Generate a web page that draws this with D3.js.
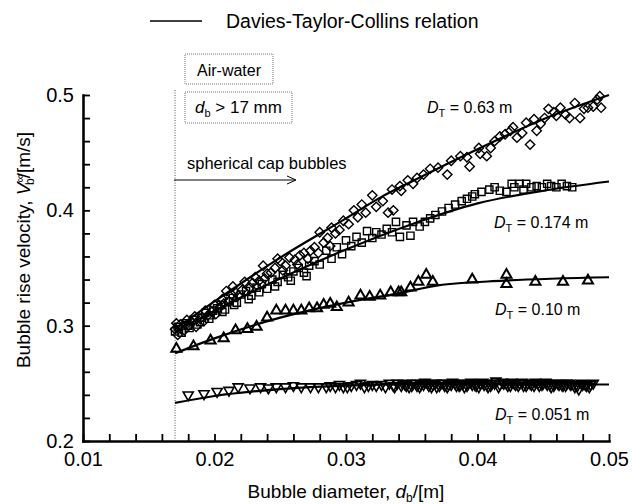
<!DOCTYPE html>
<html>
<head>
<meta charset="utf-8">
<script src="https://cdn.jsdelivr.net/npm/d3@7"></script>
<style>
  body { margin: 0; background: #fff; }
  svg { font-family: "Liberation Sans", Arial, sans-serif; }
</style>
</head>
<body>
<svg width="632" height="504"></svg>
<script>
// tick labels
const xMajor = [0.01, 0.02, 0.03, 0.04, 0.05];
const xLabels = ["0.01", "0.02", "0.03", "0.04", "0.05"];
const yMajor = [0.2, 0.3, 0.4, 0.5];
const yLabels = ["0.2", "0.3", "0.4", "0.5"];

// Davies-Taylor-Collins curves [d_b (m), V (m/s)]
const curve063 = [[0.017,0.297],[0.020,0.321],[0.025,0.359],[0.030,0.393],[0.0326,0.411],[0.035,0.425],[0.040,0.453],[0.045,0.479],[0.050,0.500]];
const curve0174 = [[0.017,0.295],[0.020,0.313],[0.025,0.341],[0.030,0.366],[0.035,0.388],[0.040,0.406],[0.045,0.417],[0.050,0.425]];
const curve010 = [[0.017,0.276],[0.020,0.289],[0.025,0.307],[0.030,0.320],[0.034,0.328],[0.037,0.335],[0.042,0.339],[0.050,0.342]];
const curve0051 = [[0.017,0.233],[0.020,0.239],[0.025,0.245],[0.030,0.248],[0.035,0.249],[0.040,0.249],[0.045,0.249],[0.050,0.249]];

// measurements, D_T = 0.63 m (diamonds)
const pts063 = [[0.0170,0.297],[0.0172,0.292],[0.0174,0.301],[0.0177,0.296],[0.0180,0.300],[0.0183,0.303],[0.0186,0.299],[0.0189,0.306],
  [0.0192,0.304],[0.0195,0.309],[0.0198,0.312],[0.0201,0.310],[0.0204,0.316],[0.0207,0.319],[0.0209,0.330],[0.0211,0.321],[0.0214,0.334],
  [0.0216,0.329],[0.0218,0.326],[0.0223,0.338],[0.0227,0.333],[0.0231,0.342],[0.0234,0.339],[0.0237,0.352],[0.0240,0.345],[0.0243,0.346],
  [0.0246,0.350],[0.0248,0.358],[0.0250,0.356],[0.0254,0.352],[0.0257,0.359],[0.0261,0.357],[0.0265,0.361],[0.0268,0.363],[0.0273,0.365],
  [0.0276,0.368],[0.0280,0.381],[0.0283,0.372],[0.0286,0.376],[0.0289,0.385],[0.0292,0.380],[0.0295,0.383],[0.0298,0.391],[0.0302,0.388],
  [0.0306,0.400],[0.0309,0.394],[0.0312,0.405],[0.0315,0.398],[0.0320,0.413],[0.0323,0.403],[0.0328,0.408],[0.0332,0.398],[0.0336,0.400],
  [0.0335,0.418],[0.0341,0.421],[0.0342,0.417],[0.0347,0.426],[0.0351,0.423],[0.0354,0.428],[0.0359,0.431],[0.0364,0.436],[0.0370,0.437],
  [0.0377,0.431],[0.0380,0.443],[0.0387,0.447],[0.0392,0.446],[0.0394,0.438],[0.0401,0.454],[0.0402,0.449],[0.0407,0.447],[0.0410,0.454],
  [0.0413,0.460],[0.0417,0.464],[0.0421,0.466],[0.0425,0.469],[0.0427,0.472],[0.0430,0.463],[0.0434,0.467],[0.0437,0.476],[0.0440,0.457],
  [0.0443,0.479],[0.0445,0.469],[0.0448,0.475],[0.0451,0.480],[0.0454,0.488],[0.0458,0.485],[0.0460,0.482],[0.0463,0.489],[0.0467,0.483],
  [0.0470,0.480],[0.0474,0.493],[0.0478,0.480],[0.0481,0.488],[0.0484,0.489],[0.0488,0.490],[0.0491,0.496],[0.0493,0.499],[0.0494,0.489],
  [0.0171,0.302],[0.0179,0.305],[0.0185,0.308],[0.0193,0.313],[0.0200,0.318],[0.0206,0.323],[0.0213,0.327],[0.0221,0.331],[0.0229,0.337],
  [0.0238,0.341],[0.0252,0.348],[0.0263,0.353],[0.0271,0.358],[0.0279,0.363],[0.0288,0.369]];

// measurements, D_T = 0.174 m (squares)
const pts0174 = [[0.0170,0.295],[0.0172,0.299],[0.0175,0.294],[0.0178,0.302],[0.0181,0.298],[0.0184,0.305],[0.0187,0.301],[0.0190,0.307],
  [0.0193,0.311],[0.0196,0.306],[0.0199,0.313],[0.0202,0.315],[0.0205,0.318],[0.0208,0.314],[0.0211,0.321],[0.0214,0.324],[0.0217,0.320],
  [0.0220,0.327],[0.0224,0.330],[0.0228,0.326],[0.0232,0.333],[0.0236,0.336],[0.0240,0.332],[0.0244,0.340],[0.0248,0.338],[0.0252,0.344],
  [0.0256,0.342],[0.0260,0.347],[0.0264,0.350],[0.0268,0.346],[0.0272,0.352],[0.0276,0.356],[0.0280,0.353],[0.0285,0.365],[0.0289,0.358],
  [0.0293,0.368],[0.0297,0.362],[0.0300,0.374],[0.0304,0.369],[0.0308,0.377],[0.0312,0.372],[0.0316,0.382],[0.0320,0.376],[0.0323,0.381],
  [0.0327,0.379],[0.0331,0.384],[0.0335,0.381],[0.0338,0.390],[0.0341,0.377],[0.0346,0.387],[0.0349,0.378],[0.0351,0.390],[0.0356,0.386],
  [0.0360,0.390],[0.0364,0.393],[0.0368,0.396],[0.0373,0.399],[0.0378,0.402],[0.0383,0.405],[0.0388,0.408],[0.0392,0.410],[0.0396,0.412],
  [0.0398,0.414],[0.0403,0.416],[0.0409,0.418],[0.0413,0.420],[0.0417,0.417],[0.0422,0.416],[0.0426,0.423],[0.0428,0.420],[0.0432,0.423],
  [0.0435,0.418],[0.0437,0.423],[0.0441,0.420],[0.0445,0.421],[0.0449,0.420],[0.0453,0.423],[0.0456,0.421],[0.0460,0.420],[0.0464,0.423],
  [0.0468,0.421],[0.0472,0.420],
  [0.0173,0.297],[0.0180,0.300],[0.0189,0.303],[0.0197,0.309],[0.0206,0.312],[0.0215,0.318],[0.0226,0.323],[0.0234,0.329],[0.0246,0.334],
  [0.0258,0.339],[0.0270,0.343]];

// measurements, D_T = 0.10 m (triangles)
const pts010 = [[0.0171,0.280],[0.0184,0.282],[0.0197,0.287],[0.0207,0.289],[0.0216,0.296],[0.0225,0.297],[0.0232,0.299],[0.0240,0.307],
  [0.0247,0.313],[0.0254,0.313],[0.0260,0.313],[0.0266,0.313],[0.0272,0.315],[0.0278,0.315],[0.0283,0.318],[0.0288,0.319],[0.0293,0.316],
  [0.0302,0.320],[0.0311,0.326],[0.0318,0.325],[0.0326,0.326],[0.0334,0.329],[0.0340,0.329],[0.0342,0.329],[0.0349,0.333],[0.0355,0.338],
  [0.0361,0.344],[0.0366,0.338],[0.0396,0.340],[0.0422,0.344],[0.0422,0.336],[0.0444,0.338],[0.0465,0.338],[0.0484,0.339]];

// measurements, D_T = 0.051 m (inverted triangles)
const pts0051 = [[0.0180,0.240],[0.0192,0.241],[0.0202,0.243],[0.0211,0.244],[0.0218,0.247],[0.0227,0.246],[0.0235,0.247],[0.0241,0.246],
  [0.0247,0.247],[0.0254,0.247],[0.0260,0.248],[0.0266,0.247],[0.0273,0.247],[0.0279,0.247],[0.0285,0.247],[0.0292,0.247],[0.0298,0.247],
  [0.0304,0.248],[0.0311,0.250],[0.0317,0.248],[0.0323,0.248],[0.0330,0.247],[0.0336,0.248],[0.0339,0.250],[0.0342,0.248],[0.0345,0.249],
  [0.0348,0.247],[0.0351,0.250],[0.0354,0.248],[0.0357,0.249],[0.0360,0.251],[0.0363,0.248],[0.0366,0.249],[0.0369,0.247],[0.0372,0.250],
  [0.0375,0.248],[0.0378,0.249],[0.0381,0.251],[0.0384,0.248],[0.0387,0.249],[0.0390,0.247],[0.0393,0.250],[0.0396,0.249],[0.0399,0.248],
  [0.0402,0.250],[0.0405,0.249],[0.0408,0.247],[0.0411,0.250],[0.0414,0.252],[0.0417,0.249],[0.0420,0.250],[0.0423,0.248],[0.0426,0.251],
  [0.0429,0.249],[0.0432,0.250],[0.0435,0.248],[0.0438,0.250],[0.0441,0.249],[0.0444,0.251],[0.0447,0.248],[0.0450,0.250],[0.0453,0.249],
  [0.0456,0.247],[0.0459,0.250],[0.0462,0.249],[0.0465,0.248],[0.0468,0.250],[0.0471,0.249],[0.0474,0.247],[0.0477,0.245],[0.0480,0.249],
  [0.0483,0.248],[0.0486,0.249],
  [0.0288,0.248],[0.0295,0.249],[0.0301,0.247],[0.0308,0.249],[0.0314,0.247],[0.0320,0.249],[0.0327,0.249],[0.0333,0.250],[0.0337,0.247],
  [0.0343,0.250],[0.0346,0.248],[0.0350,0.248],[0.0353,0.250],[0.0356,0.247],[0.0359,0.249],[0.0362,0.250],[0.0365,0.247],[0.0368,0.250],
  [0.0371,0.248],[0.0374,0.250],[0.0377,0.247],[0.0380,0.249],[0.0383,0.250],[0.0386,0.248],[0.0389,0.250],[0.0392,0.248],[0.0395,0.251],
  [0.0398,0.249],[0.0401,0.247],[0.0404,0.251],[0.0407,0.249],[0.0410,0.248],[0.0413,0.250],[0.0416,0.247],[0.0419,0.251],[0.0422,0.250],
  [0.0425,0.248],[0.0428,0.250],[0.0431,0.248],[0.0434,0.251],[0.0437,0.248],[0.0440,0.250],[0.0443,0.248],[0.0446,0.250],[0.0449,0.249],
  [0.0452,0.251],[0.0455,0.249],[0.0458,0.248],[0.0461,0.250],[0.0464,0.249],[0.0467,0.248],[0.0470,0.250],[0.0473,0.249],[0.0476,0.248],
  [0.0479,0.250],[0.0482,0.249],[0.0485,0.247],[0.0488,0.250]];

const svg = d3.select("svg");

const x = d3.scaleLinear().domain([0.01, 0.05]).range([83, 609]);
const y = d3.scaleLinear().domain([0.2, 0.5]).range([441, 95]);

// minor ticks every 0.002 / 0.02, labels only on the majors
const xTicks = d3.range(21).map(i => +(0.01 + i * 0.002).toFixed(4));
const yTicks = d3.range(16).map(i => +(0.2 + i * 0.02).toFixed(3));
const labelFor = (majors, labels) => d => {
  const i = majors.findIndex(m => Math.abs(m - d) < 1e-9);
  return i < 0 ? "" : labels[i];
};

const gx = svg.append("g")
  .attr("transform", "translate(0,441)")
  .call(d3.axisBottom(x).tickValues(xTicks).tickSize(-7).tickSizeOuter(0).tickPadding(11)
    .tickFormat(labelFor(xMajor, xLabels)));

const gy = svg.append("g")
  .attr("transform", "translate(83,0)")
  .call(d3.axisLeft(y).tickValues(yTicks).tickSize(-7).tickSizeOuter(0).tickPadding(9)
    .tickFormat(labelFor(yMajor, yLabels)));

[gx, gy].forEach(g => {
  g.select(".domain").attr("stroke-width", 2.6).attr("stroke-linecap", "square");
  g.selectAll(".tick line").attr("stroke-width", 1.8);
  g.selectAll(".tick text").attr("font-size", 20).attr("font-family", "Liberation Sans, Arial, sans-serif").attr("fill", "#000");
});

// dotted marker for d_b = 17 mm
svg.append("line")
  .attr("x1", x(0.017)).attr("x2", x(0.017))
  .attr("y1", 90).attr("y2", 440)
  .attr("stroke", "#555").attr("stroke-width", 1).attr("stroke-dasharray", "1,1.5");

// markers
const markers = svg.append("g").attr("fill", "none").attr("stroke", "#000").attr("stroke-width", 1.4);

const diamondPath = d3.symbol().type(d3.symbolSquare).size(44)();
const squarePath = d3.symbol().type(d3.symbolSquare).size(52)();
const triPath = d3.symbol().type(d3.symbolTriangle).size(44)();

markers.selectAll(".d063").data(pts063).join("path")
  .attr("d", diamondPath)
  .attr("transform", d => `translate(${x(d[0])},${y(d[1])}) rotate(45)`);

markers.selectAll(".s0174").data(pts0174).join("path")
  .attr("d", squarePath)
  .attr("transform", d => `translate(${x(d[0])},${y(d[1])})`);

markers.selectAll(".t010").data(pts010).join("path")
  .attr("d", triPath)
  .attr("stroke-width", 2)
  .attr("transform", d => `translate(${x(d[0])},${y(d[1])})`);

markers.selectAll(".t0051").data(pts0051).join("path")
  .attr("d", triPath)
  .attr("stroke-width", 1.6)
  .attr("transform", d => `translate(${x(d[0])},${y(d[1])}) rotate(180)`);

// DTC relation lines
const line = d3.line().x(d => x(d[0])).y(d => y(d[1])).curve(d3.curveMonotoneX);
svg.append("g").selectAll("path")
  .data([curve063, curve0174, curve010, curve0051])
  .join("path")
  .attr("d", line)
  .attr("fill", "none").attr("stroke", "#000").attr("stroke-width", 2.2);

// legend
svg.append("line").attr("x1", 150).attr("x2", 202).attr("y1", 21).attr("y2", 21)
  .attr("stroke", "#000").attr("stroke-width", 1.5);
svg.append("text").attr("x", 226).attr("y", 28).attr("font-size", 19.5)
  .text("Davies-Taylor-Collins relation");

// annotation boxes
svg.append("rect").attr("x", 185).attr("y", 54).attr("width", 88).attr("height", 30)
  .attr("fill", "none").attr("stroke", "#777").attr("stroke-width", 1).attr("stroke-dasharray", "1,1");
svg.append("text").attr("x", 197).attr("y", 76).attr("font-size", 16).text("Air-water");

svg.append("rect").attr("x", 185).attr("y", 92).attr("width", 107).attr("height", 31)
  .attr("fill", "none").attr("stroke", "#777").attr("stroke-width", 1).attr("stroke-dasharray", "1,1");
const db = svg.append("text").attr("x", 195).attr("y", 113).attr("font-size", 17);
db.append("tspan").attr("font-style", "italic").text("d");
db.append("tspan").attr("font-size", 11).attr("dy", 4).text("b");
db.append("tspan").attr("dy", -4).text(" > 17 mm");

// spherical cap arrow
svg.append("text").attr("x", 187).attr("y", 169).attr("font-size", 16.5).text("spherical cap bubbles");
svg.append("line").attr("x1", 174).attr("x2", 295).attr("y1", 180).attr("y2", 180)
  .attr("stroke", "#000").attr("stroke-width", 1);
svg.append("path").attr("d", "M287,176 L296,180 L287,184")
  .attr("fill", "none").attr("stroke", "#000").attr("stroke-width", 1);

// D_T labels
const dtLabels = [
  { text: " = 0.63 m", x: 427, y: 113 },
  { text: " = 0.174 m", x: 494, y: 228 },
  { text: " = 0.10 m", x: 495, y: 315 },
  { text: " = 0.051 m", x: 495, y: 420 }
];
dtLabels.forEach(l => {
  const t = svg.append("text").attr("x", l.x).attr("y", l.y).attr("font-size", 16);
  t.append("tspan").attr("font-style", "italic").text("D");
  t.append("tspan").attr("font-size", 11).attr("dy", 4).text("T");
  t.append("tspan").attr("dy", -4).text(l.text);
});

// axis titles
const xt = svg.append("text").attr("x", 346).attr("y", 498).attr("text-anchor", "middle").attr("font-size", 19);
xt.append("tspan").text("Bubble diameter, ");
xt.append("tspan").attr("font-style", "italic").text("d");
xt.append("tspan").attr("font-size", 12).attr("dy", 4).text("b");
xt.append("tspan").attr("dy", -4).text("/[m]");

const yt = svg.append("text").attr("transform", "translate(30,250) rotate(-90)")
  .attr("text-anchor", "middle").attr("font-size", 19);
yt.append("tspan").text("Bubble rise velocity, ");
yt.append("tspan").attr("font-style", "italic").text("V");
yt.append("tspan").attr("font-size", 12).attr("dy", -6).text("∞");
yt.append("tspan").attr("font-size", 12).attr("dx", -11).attr("dy", 10).text("b");
yt.append("tspan").attr("dy", -4).text("/[m/s]");
</script>
</body>
</html>
